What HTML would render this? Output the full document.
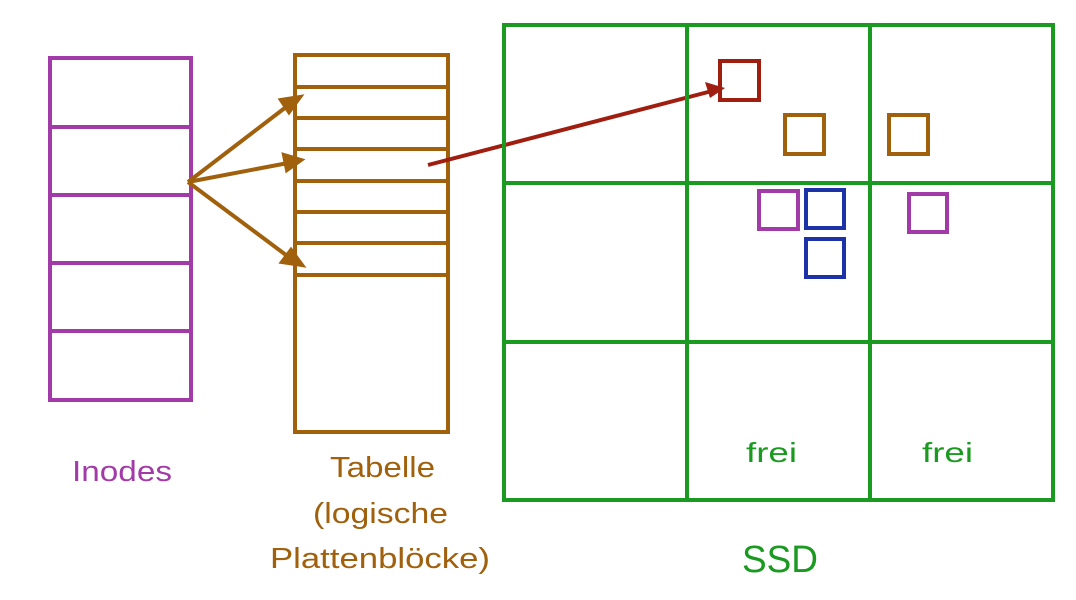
<!DOCTYPE html>
<html><head><meta charset="utf-8"><style>
html,body{margin:0;padding:0;background:#fff;}
svg{display:block}
text{font-family:"Liberation Sans",sans-serif;}
</style></head><body>
<svg width="1076" height="600" viewBox="0 0 1076 600" xmlns="http://www.w3.org/2000/svg">
<g fill="none" stroke="#a23ba8" stroke-width="4">
<rect x="50" y="58" width="141" height="342"/>
<line x1="50" y1="127" x2="191" y2="127"/><line x1="50" y1="195" x2="191" y2="195"/>
<line x1="50" y1="263" x2="191" y2="263"/><line x1="50" y1="331" x2="191" y2="331"/>
</g>
<g fill="none" stroke="#a0600c" stroke-width="4">
<rect x="295" y="55" width="153" height="377"/>
<line x1="295" y1="87" x2="448" y2="87"/><line x1="295" y1="118" x2="448" y2="118"/>
<line x1="295" y1="149" x2="448" y2="149"/><line x1="295" y1="181" x2="448" y2="181"/>
<line x1="295" y1="212" x2="448" y2="212"/><line x1="295" y1="243" x2="448" y2="243"/>
<line x1="295" y1="275" x2="448" y2="275"/>
</g>
<g stroke="#a0600c" stroke-width="4" fill="#a0600c">
<line x1="188" y1="182" x2="290" y2="104"/>
<polygon points="300,97 281,100 289,112"/>
<line x1="188" y1="182" x2="288" y2="163"/>
<polygon points="301,160 284,155 287,170"/>
<line x1="188" y1="182" x2="290" y2="258"/>
<polygon points="302,265 282,262 291,250"/>
</g>
<line x1="428" y1="165" x2="712" y2="91" stroke="#a01e10" stroke-width="4"/>
<polygon points="725,88 705,82 710,98" fill="#a01e10"/>
<g fill="none" stroke="#1a9a20" stroke-width="4">
<rect x="504" y="25" width="549" height="475"/>
<line x1="687" y1="25" x2="687" y2="500"/><line x1="870" y1="25" x2="870" y2="500"/>
<line x1="504" y1="183" x2="1053" y2="183"/><line x1="504" y1="342" x2="1053" y2="342"/>
</g>
<g fill="none" stroke-width="4">
<rect x="720" y="61" width="39" height="39" stroke="#a01e10"/>
<rect x="785" y="115" width="39" height="39" stroke="#a0600c"/>
<rect x="889" y="115" width="39" height="39" stroke="#a0600c"/>
<rect x="759" y="191" width="39" height="38" stroke="#a23ba8"/>
<rect x="806" y="190" width="38" height="38" stroke="#1e32a8"/>
<rect x="806" y="239" width="38" height="38" stroke="#1e32a8"/>
<rect x="909" y="194" width="38" height="38" stroke="#a23ba8"/>
</g>
<text x="72" y="481" font-size="29" fill="#a23ba8" textLength="100" lengthAdjust="spacingAndGlyphs">Inodes</text>
<g font-size="29" fill="#a0600c">
<text x="330" y="477" textLength="105" lengthAdjust="spacingAndGlyphs">Tabelle</text>
<text x="313" y="523" textLength="135" lengthAdjust="spacingAndGlyphs">(logische</text>
<text x="270" y="568" textLength="220" lengthAdjust="spacingAndGlyphs">Plattenblöcke)</text>
</g>
<g fill="#1a9a20">
<text x="746" y="462" font-size="28" textLength="51" lengthAdjust="spacingAndGlyphs">frei</text>
<text x="922" y="462" font-size="28" textLength="51" lengthAdjust="spacingAndGlyphs">frei</text>
<text x="742" y="572" font-size="38" textLength="76" lengthAdjust="spacingAndGlyphs">SSD</text>
</g>
</svg>
</body></html>
